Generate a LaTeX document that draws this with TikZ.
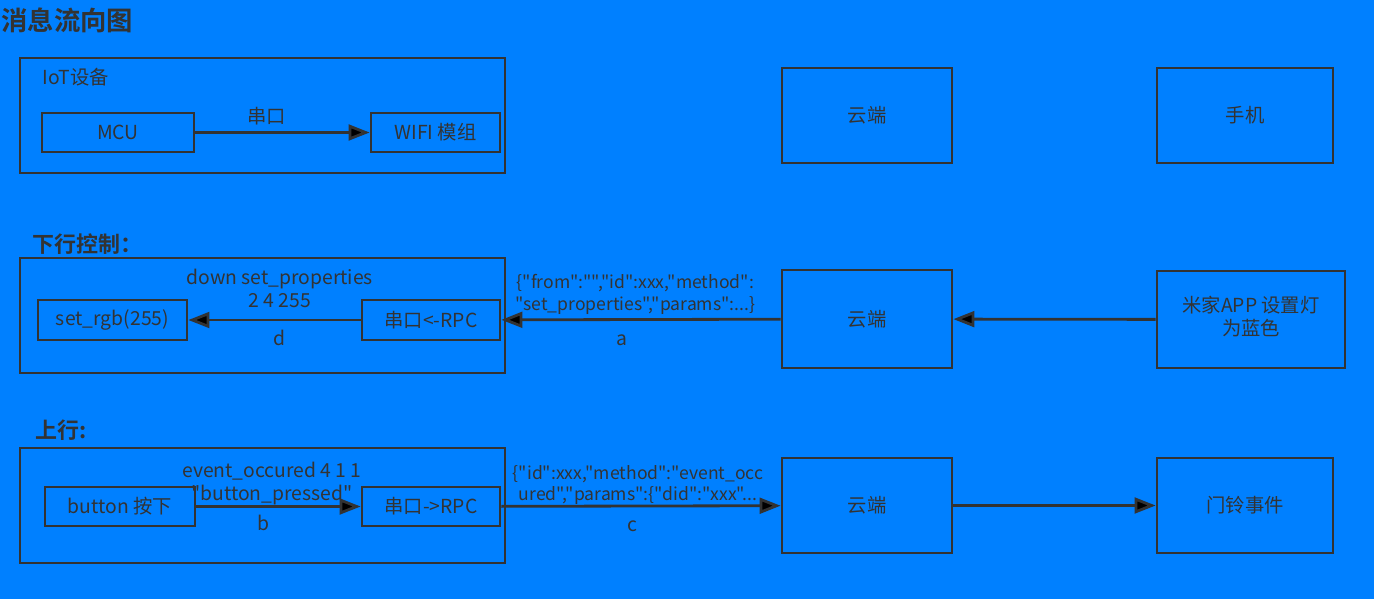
\documentclass[tikz,border=0pt]{standalone}
\usepackage{fontspec}
\newfontfamily\cjkfont{Noto Sans CJK SC}[BoldFont={Noto Sans CJK SC Bold}]
\usetikzlibrary{arrows.meta,calc}

\definecolor{bgblue}{HTML}{0080FF}
\definecolor{ink}{HTML}{333333}

\tikzset{
    box/.style={draw=ink, line width=1.6pt, inner sep=0pt},
    frame/.style={draw=ink, line width=1.6pt, inner sep=0pt, minimum width=9.7cm, minimum height=2.3cm},
    heading/.style={anchor=west, inner sep=0pt, font=\cjkfont\bfseries\fontsize{12.5}{15}\selectfont},
    flow/.style={draw=ink, line width=1.6pt, -{Triangle[length=12pt,width=9pt]}},
    json/.style={font=\cjkfont\fontsize{10}{12.5}\selectfont}
}

\begin{document}
\begin{tikzpicture}[x=0.02cm, y=0.02cm, text=ink, font=\cjkfont\fontsize{11}{13}\selectfont]

    \fill[bgblue] (0,0) rectangle (1374,-599);

    \node[anchor=west, inner sep=0pt, font=\cjkfont\bfseries\fontsize{15}{18}\selectfont] (title) at (1,-20) {消息流向图};

    % IoT设备
    \node[frame] (iot) at (262.5,-115.5) {};
    \node[anchor=west, inner sep=0pt] (iotname) at (42,-77) {IoT设备};
    \node[box, minimum width=3.04cm, minimum height=0.78cm] (mcu) at (118,-132.5) {MCU};
    \node[box, minimum width=2.58cm, minimum height=0.78cm] (wifi) at (435.5,-132.5) {WIFI 模组};
    \node[box, minimum width=3.4cm, minimum height=1.9cm] (cloudA) at (867,-115.5) {云端};
    \node[box, minimum width=3.52cm, minimum height=1.9cm] (phone) at (1245,-115.5) {手机};

    \path[flow] (mcu) edge node[above, pos=0.41] {串口} (wifi);

    % 下行
    \node[heading] (downname) at (32,-244) {下行控制：};
    \node[frame] (down) at (262.5,-315.5) {};
    \node[box, minimum width=2.98cm, minimum height=0.8cm] (rgb) at (112.5,-320) {set\_rgb(255)};
    \node[box, minimum width=2.76cm, minimum height=0.8cm] (rpcdown) at (431,-320) {串口<-RPC};
    \node[box, minimum width=3.4cm, minimum height=1.96cm] (cloudB) at (867,-319) {云端};
    \node[box, minimum width=3.76cm, minimum height=1.94cm] (app) at (1251,-319.5) {\begin{tabular}{c}米家APP 设置灯\\为蓝色\end{tabular}};

    \path[flow] (app) edge (cloudB);
    \path[flow] (cloudB) edge node[above, pos=0.52, yshift=-2.5pt, json] {\begin{tabular}{c}\{"from":"","id":xxx,"method":\\"set\_properties","params":...\}\end{tabular}}
                              node[below, pos=0.57, yshift=-4.5pt] {a} (rpcdown);
    \path[flow] (rpcdown) edge node[above, pos=0.47, yshift=-1pt] {\begin{tabular}{c}down set\_properties\\2 4 255\end{tabular}}
                               node[below, pos=0.47, yshift=-1.5pt] {d} (rgb);

    % 上行
    \node[heading] (upname) at (35,-430) {上行:};
    \node[frame] (up) at (262.5,-505.5) {};
    \node[box, minimum width=3.0cm, minimum height=0.78cm] (btn) at (120,-506.5) {button 按下};
    \node[box, minimum width=2.76cm, minimum height=0.78cm] (rpcup) at (431,-506.5) {串口->RPC};
    \node[box, minimum width=3.4cm, minimum height=1.9cm] (cloudC) at (867,-505.5) {云端};
    \node[box, minimum width=3.52cm, minimum height=1.9cm] (bell) at (1245,-505.5) {门铃事件};

    \path[flow] (btn) edge node[above, pos=0.46, yshift=-4.5pt] {\begin{tabular}{c}event\_occured 4 1 1\\"button\_pressed"\end{tabular}}
                           node[below, pos=0.41, yshift=-1pt] {b} (rpcup);
    \path[flow] (rpcup) edge node[above, pos=0.49, yshift=-5pt, json] {\begin{tabular}{c}\{"id":xxx,"method":"event\_occ\\ured","params":\{"did":"xxx"...\end{tabular}}
                             node[below, pos=0.47, yshift=-4.5pt] {c} (cloudC);
    \path[flow] (cloudC) edge (bell);

\end{tikzpicture}
\end{document}
